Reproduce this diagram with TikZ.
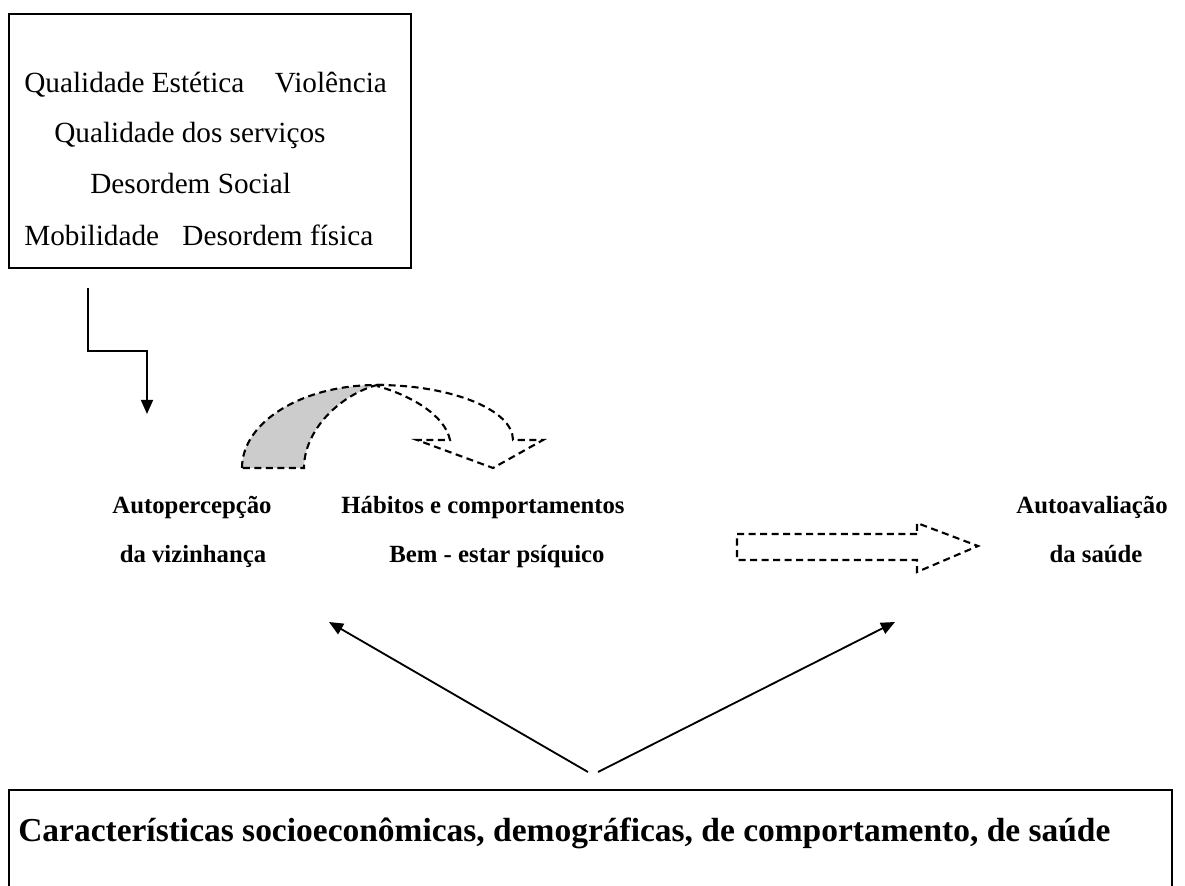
\documentclass[tikz,border=0pt]{standalone}
\usepackage{fontspec}
\setmainfont{Liberation Serif}
\usetikzlibrary{arrows.meta, positioning}

\begin{document}
\begin{tikzpicture}[x=0.025cm, y=-0.025cm,
		seta/.style={line width=1.3pt, -{Triangle[length=10pt, width=8.5pt]}},
		tracejado/.style={line width=1.5pt, dash pattern=on 5pt off 3.2pt},
		fator/.style={font=\fontsize{20.8}{24}\selectfont, anchor=base west, inner sep=0pt},
		rotulo/.style={font=\fontsize{17.6}{21}\selectfont\bfseries, anchor=base, inner sep=0pt}]
		\useasboundingbox (0,0) rectangle (1185,886);
		
		% caixa de cima
		\node (vizinhanca) [draw, line width=1.4pt, minimum width=10.05cm, minimum height=6.35cm, inner sep=0pt] at (210,141) {};
		\node [fator] (estetica) at (24,93) {Qualidade Estética\hspace{21.7pt}Violência};
		\node [fator] (servicos) at (54,143) {Qualidade dos serviços};
		\node [fator] (social) at (90,194) {Desordem Social};
		\node [fator] (mobilidade) at (24,245) {Mobilidade\hspace{16.6pt}Desordem física};
		
		\coordinate (ini) at (88,288);
		\coordinate (fim) at (147,414);
		\draw [seta] (ini) -- ++(0,63) -| (fim);
		
		% rotulos
		\node [rotulo] (auto1) at (192,513) {Autopercepção};
		\node [rotulo] (auto2) at (193,562) {da vizinhança};
		\node [rotulo] (hab) at (483,513) {Hábitos e comportamentos};
		\node [rotulo] (bem) at (497,562) {Bem - estar psíquico};
		\node [rotulo] (saude1) at (1092,513) {Autoavaliação};
		\node [rotulo] (saude2) at (1096,562) {da saúde};
		
		% seta curva
		\fill [black!20] (242,468) .. controls (242,422) and (302,385) .. (377,385)
			.. controls (340,395) and (304,430) .. (304,468) -- cycle;
		\draw [tracejado] (242,468) .. controls (242,422) and (302,385) .. (377,385)
			.. controls (340,395) and (304,430) .. (304,468) -- cycle;
		\draw [tracejado] (377,385) .. controls (452,385) and (513,410) .. (513,440)
			-- (543,440) -- (493,468) -- (417,440) -- (450,440)
			.. controls (445,415) and (410,395) .. (377,386);
		
		% seta larga
		\draw [tracejado] (917,534) -- (737,534) -- (737,560) -- (917,560) -- (917,572)
			-- (978,546) -- (917,523) -- cycle;
		
		% caixa de baixo
		\draw [line width=1.4pt] (9,900) -- (9,790) -- (1172,790) -- (1172,900);
		\node [font=\fontsize{23.8}{28}\selectfont\bfseries, anchor=base west, inner sep=0pt] (carac) at (18,841) {Características socioeconômicas, demográficas, de comportamento, de saúde};
		
		\coordinate (apexL) at (588,772);
		\coordinate (apexR) at (598,772);
		\coordinate (tipL) at (329,622);
		\coordinate (tipR) at (895,622);
		\draw [seta] (apexL) -- (tipL);
		\draw [seta] (apexR) -- (tipR);
\end{tikzpicture}
\end{document}
